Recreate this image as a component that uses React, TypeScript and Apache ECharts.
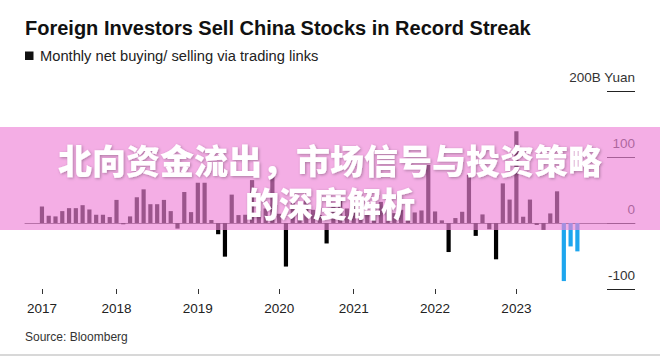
import React, { useEffect, useRef } from "react";
import * as echarts from "echarts";

// ---- data (billion yuan, monthly net northbound buying / selling) ----
const startYear = 2017;
const startMonth = 3; // first bar
const monthlyFlow: number[] = [
  25, 11, 10, 18, 22.5, 22.5, 27, 20.5, 12.5, 12.5,
  9, 35, -2, 10, 39, 51, 28.5, 28.5, 35, 18,
  -8.5, 47, 16.5, 61, 61, 4.5, -17, -51, 43, 12,
  12.5, 65, 18, 22, 73, 14, -66, 30, 18, 40,
  20, 12, -31, 25, 38, 22, 30, 18, 14, 25,
  32, 22, 15, 20, 28, 16, 19, 88, 17.5, 4,
  -44, 7.5, 17, 73, -19.5, 13, -9.5, -55, 60, 35.5,
  139, 9.5, 35.5, -3, -10.5, 14.5, 48, -88, -35.5, -43,
];
const streakStartIndex = 77; // record selling streak highlighted in blue
const yearTickIndex = [0, 11, 23, 35, 46, 58, 70];
const yearLabels = ["2017", "2018", "2019", "2020", "2021", "2022", "2023"];
const yAxisTicks = [-100, 0, 100, 200];
const unitLabel = "200B Yuan";

const titleText = "Foreign Investors Sell China Stocks in Record Streak";
const subtitleText = "Monthly net buying/ selling via trading links";
const sourceText = "Source: Bloomberg";
const overlayLines = ["北向资金流出，市场信号与投资策略", "的深度解析"];

const PAD_L = 2;
const PAD_R = 8;
const BLACK = "#000000";
const BLUE = "#1ea6ee";
const SANS = "'Liberation Sans', Arial, Helvetica, sans-serif";

const months: string[] = monthlyFlow.map((_, i) => {
  const m = startMonth - 1 + i;
  return `${startYear + Math.floor(m / 12)}-${String((m % 12) + 1).padStart(2, "0")}`;
});

export default function App() {
  const ref = useRef<HTMLDivElement>(null);

  useEffect(() => {
    if (!ref.current) return;
    const chart = echarts.init(ref.current, undefined, { renderer: "svg" });

    const cats = [
      ...Array.from({ length: PAD_L }, (_, i) => `padL${i}`),
      ...months,
      ...Array.from({ length: PAD_R }, (_, i) => `padR${i}`),
    ];
    const data: any[] = [
      ...Array.from({ length: PAD_L }, () => "-"),
      ...monthlyFlow.map((v, i) => ({
        value: v,
        itemStyle: { color: i >= streakStartIndex ? BLUE : BLACK },
      })),
      ...Array.from({ length: PAD_R }, () => "-"),
    ];
    const isYearTick = (idx: number) => yearTickIndex.includes(idx - PAD_L);

    const cjkStyle = {
      font: `900 34px 'Noto Sans CJK SC', sans-serif`,
      fill: "#ffffff",
      align: "center",
      verticalAlign: "middle",
      lineHeight: 36,
      textShadowColor: "rgba(0,0,0,0.3)",
      textShadowBlur: 3,
      textShadowOffsetX: 1,
      textShadowOffsetY: 1,
    };

    chart.setOption({
      animation: false,
      backgroundColor: "#ffffff",
      grid: { left: 25, right: 25, top: 91, height: 198, containLabel: false },
      xAxis: [
        {
          type: "category",
          data: cats,
          axisLine: { show: true, onZero: true, lineStyle: { color: "#555", width: 1 } },
          axisTick: { show: false },
          axisLabel: { show: false },
          splitLine: { show: false },
        },
        {
          type: "category",
          data: cats,
          position: "bottom",
          axisLine: { show: false, onZero: false },
          axisTick: {
            show: true,
            alignWithLabel: true,
            interval: (idx: number) => isYearTick(idx),
            length: 5,
            lineStyle: { color: "#333", width: 1 },
          },
          axisLabel: {
            show: true,
            interval: (idx: number) => isYearTick(idx),
            formatter: (_v: string, idx: number) => {
              const k = yearTickIndex.indexOf(idx - PAD_L);
              return k >= 0 ? yearLabels[k] : "";
            },
            fontFamily: SANS,
            fontSize: 13.5,
            color: "#222",
            margin: 12,
          },
          splitLine: { show: false },
        },
      ],
      yAxis: {
        type: "value",
        position: "right",
        min: yAxisTicks[0],
        max: yAxisTicks[yAxisTicks.length - 1],
        interval: 100,
        axisLine: { show: false },
        splitLine: { show: false },
        axisTick: { show: true, inside: true, length: 28, lineStyle: { color: "#222", width: 1 } },
        axisLabel: {
          inside: true,
          margin: 0,
          formatter: (v: number) => (v === 200 ? unitLabel : String(v)),
          fontFamily: SANS,
          fontSize: 13.5,
          color: "#333",
          verticalAlign: "bottom",
          lineHeight: 14,
          padding: [0, 0, 7, 0],
        },
      },
      series: [
        {
          type: "bar",
          xAxisIndex: 0,
          data,
          barWidth: 4.2,
        },
      ],
      graphic: [
        {
          type: "text",
          left: 25,
          top: 18,
          style: {
            text: titleText,
            font: `bold 20px ${SANS}`,
            fill: "#111",
          },
          z: 10,
        },
        {
          type: "rect",
          shape: { x: 25, y: 51.5, width: 8.5, height: 8.5 },
          style: { fill: "#111" },
          z: 10,
        },
        {
          type: "text",
          left: 40,
          top: 48.5,
          style: {
            text: subtitleText,
            font: `14.7px ${SANS}`,
            fill: "#222",
          },
          z: 10,
        },
        {
          type: "text",
          left: 25,
          top: 330.5,
          style: {
            text: sourceText,
            font: `12px ${SANS}`,
            fill: "#333",
          },
          z: 10,
        },
        {
          type: "rect",
          shape: { x: 0, y: 354, width: 660, height: 2 },
          style: { fill: "#d8d8d8" },
          z: 10,
        },
        {
          type: "rect",
          shape: { x: 0, y: 127, width: 660, height: 103 },
          style: { fill: "rgba(238,131,215,0.65)" },
          z: 100,
        },
        {
          type: "text",
          x: 330,
          y: 159.5,
          style: { ...cjkStyle, text: overlayLines[0] },
          z: 101,
        },
        {
          type: "text",
          x: 330,
          y: 202.5,
          style: { ...cjkStyle, text: overlayLines[1] },
          z: 101,
        },
      ],
    });

    return () => chart.dispose();
  }, []);

  return (
    <div
      ref={ref}
      style={{ position: "absolute", left: 0, top: 0, width: 660, height: 358, background: "#fff" }}
    />
  );
}
